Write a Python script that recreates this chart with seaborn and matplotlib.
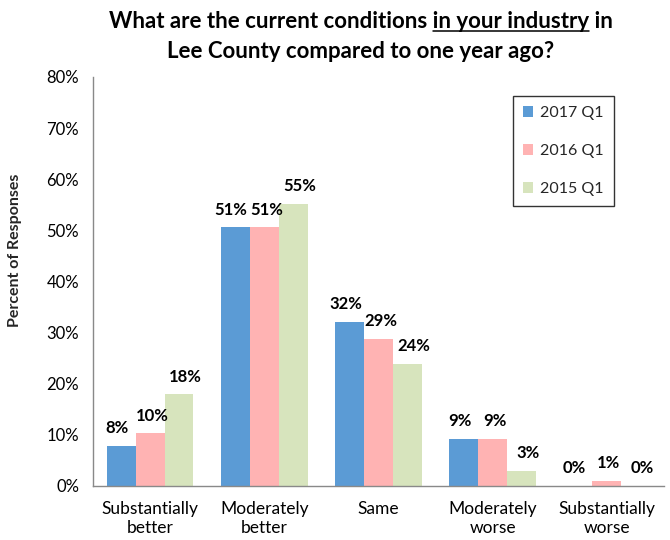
import matplotlib
matplotlib.use("Agg")
import matplotlib.pyplot as plt
from matplotlib.lines import Line2D
from matplotlib.ticker import FixedLocator, FuncFormatter
import seaborn as sns
import pandas as pd

# Survey responses (percent of respondents)
categories = ["Substantially\nbetter", "Moderately\nbetter", "Same",
              "Moderately\nworse", "Substantially\nworse"]
series_names = ["2017 Q1", "2016 Q1", "2015 Q1"]
values_2017 = [7.9, 50.6, 32.1, 9.2, 0.0]
values_2016 = [10.3, 50.6, 28.8, 9.2, 1.0]
values_2015 = [17.9, 55.2, 23.9, 2.9, 0.0]
colors = ["#5B9BD5", "#FFB3B3", "#D7E4BD"]

rows = []
for name, vals in zip(series_names, [values_2017, values_2016, values_2015]):
    for cat, v in zip(categories, vals):
        rows.append({"category": cat, "period": name, "value": v})
df = pd.DataFrame(rows)

sns.set_theme(style="white")
plt.rcParams["font.family"] = ["Lato", "DejaVu Sans"]
GRAY = "#898989"

W, H = 670, 540
fig = plt.figure(figsize=(W / 100, H / 100), dpi=100)
ax = fig.add_axes([93 / W, 1 - 486 / H, 571 / W, 409 / H])

sns.barplot(data=df, x="category", y="value", hue="period",
            order=categories, hue_order=series_names, palette=colors,
            width=0.76, gap=0, saturation=1, linewidth=0, ax=ax)

# value labels above each bar, nudged sideways per series so neighbours don't collide
label_dx = [-3, 1.5, 4.5]
for container, dx in zip(ax.containers, label_dx):
    for bar in container:
        h = bar.get_height()
        ax.annotate(f"{h:.0f}%", (bar.get_x() + bar.get_width() / 2, h),
                    xytext=(dx, 7), textcoords="offset points",
                    ha="center", va="bottom", fontsize=12, fontweight="bold",
                    color="black")

ax.set_xlim(-0.5, len(categories) - 0.5)
ax.set_ylim(0, 80)
ax.yaxis.set_major_locator(FixedLocator(range(0, 81, 10)))
ax.yaxis.set_major_formatter(FuncFormatter(lambda v, _: f"{v:.0f}%"))
ax.xaxis.set_minor_locator(FixedLocator([i - 0.5 for i in range(len(categories) + 1)]))
ax.tick_params(axis="x", which="major", length=0, pad=11, labelsize=12.5, colors="black")
ax.tick_params(axis="x", which="minor", length=5, width=1, color=GRAY, direction="out")
ax.tick_params(axis="y", which="major", length=5, width=1, color=GRAY, direction="out",
               labelsize=12, labelcolor="black", pad=5)
ax.set_xlabel("")
ax.set_ylabel("Percent of Responses", fontsize=11.5, fontweight="bold")
ax.yaxis.set_label_coords(-0.124, 0.577)

for side in ["top", "right"]:
    ax.spines[side].set_visible(False)
for side in ["left", "bottom"]:
    ax.spines[side].set_color(GRAY)
    ax.spines[side].set_linewidth(1)

handles, labels = ax.get_legend_handles_labels()
leg = ax.legend(handles, labels, loc="upper left", bbox_to_anchor=(0.735, 0.954),
                borderaxespad=0, frameon=True, fancybox=False, fontsize=11.5,
                handlelength=0.65, handleheight=0.65, handletextpad=0.4,
                labelspacing=1.5, borderpad=0.65)
leg.get_frame().set_edgecolor("black")
leg.get_frame().set_linewidth(1)

# Title, with part of the first line underlined
TITLE_SIZE = 16
title_kw = dict(fontsize=TITLE_SIZE, fontweight="bold", ha="center", va="baseline",
                color="black")
line1 = "What are the current conditions in your industry in"
line2 = "Lee County compared to one year ago?"
cx = 361 / W
t1 = fig.text(cx, 1 - 28 / H, line1, **title_kw)
fig.text(cx, 1 - 58 / H, line2, **title_kw)

fig.canvas.draw()
renderer = fig.canvas.get_renderer()


def text_width(s):
    tmp = fig.text(0, 0, s, fontsize=TITLE_SIZE, fontweight="bold")
    w = tmp.get_window_extent(renderer).width
    tmp.remove()
    return w


bb = t1.get_window_extent(renderer)
w_upto = text_width("What are the current conditions in your industry")
w_target = text_width("in your industry")
x_end = bb.x0 + w_upto
x_start = x_end - w_target
y_line = (H - 31) / H
fig.add_artist(Line2D([x_start / W, x_end / W], [y_line, y_line],
                      transform=fig.transFigure, color="black", linewidth=1.1))

fig.savefig("out.png", dpi=100)
